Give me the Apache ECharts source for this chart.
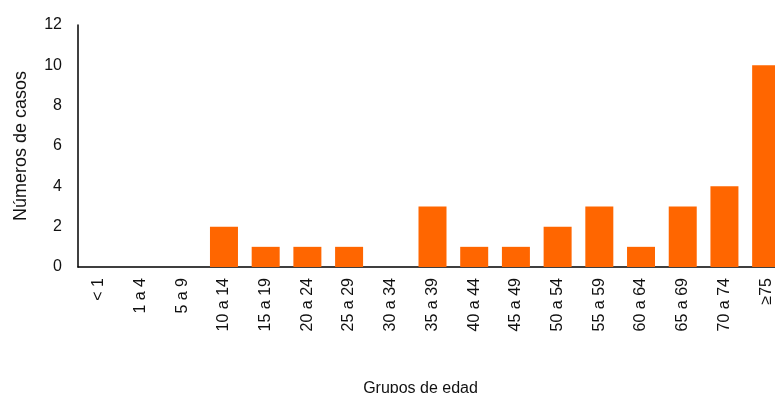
<!DOCTYPE html>
<html>
<head>
<meta charset="utf-8">
<script src="https://cdn.jsdelivr.net/npm/echarts@6/dist/echarts.min.js"></script>
<style>
  html, body { margin: 0; padding: 0; background: #fff; }
  #chart { width: 775px; height: 393px; }
</style>
</head>
<body>
<div id="chart"></div>
<script>
  // grupos de edad y casos
  const categorias = ['< 1', '1 a 4', '5 a 9', '10 a 14', '15 a 19', '20 a 24', '25 a 29', '30 a 34',
    '35 a 39', '40 a 44', '45 a 49', '50 a 54', '55 a 59', '60 a 64', '65 a 69', '70 a 74', '≥75'];
  const casos = [0, 0, 0, 2, 1, 1, 1, 0, 3, 1, 1, 2, 3, 1, 3, 4, 10];
  const ticksY = [0, 2, 4, 6, 8, 10, 12];

  let chart = echarts.init(document.getElementById('chart'));
  chart.setOption({
    animation: false,
    textStyle: { fontFamily: 'Liberation Sans, Arial, sans-serif' },
    grid: { left: 78, right: -12, top: 25, bottom: 126, outerBoundsMode: 'none', containLabel: false },
    xAxis: {
      type: 'category',
      data: categorias,
      name: 'Grupos de edad',
      nameLocation: 'middle',
      nameGap: 114,
      nameTextStyle: { fontSize: 16, color: '#111', padding: [0, 24, 0, 0] },
      axisLine: { lineStyle: { color: '#000', width: 1.5 } },
      axisTick: { show: false },
      axisLabel: { rotate: 90, fontSize: 16, color: '#111', margin: 11, interval: 0 }
    },
    yAxis: {
      type: 'value',
      min: ticksY[0],
      max: ticksY[ticksY.length - 1],
      interval: 2,
      name: 'Números de casos',
      nameLocation: 'middle',
      nameGap: 48,
      nameTextStyle: { fontSize: 18, color: '#111' },
      axisLine: { show: true, lineStyle: { color: '#000', width: 1.5 } },
      axisTick: { show: false },
      splitLine: { show: false },
      axisLabel: { fontSize: 16, color: '#111', margin: 16 }
    },
    series: [{
      type: 'bar',
      data: casos,
      barWidth: 28,
      itemStyle: { color: '#FF6600' }
    }]
  });
</script>
</body>
</html>
